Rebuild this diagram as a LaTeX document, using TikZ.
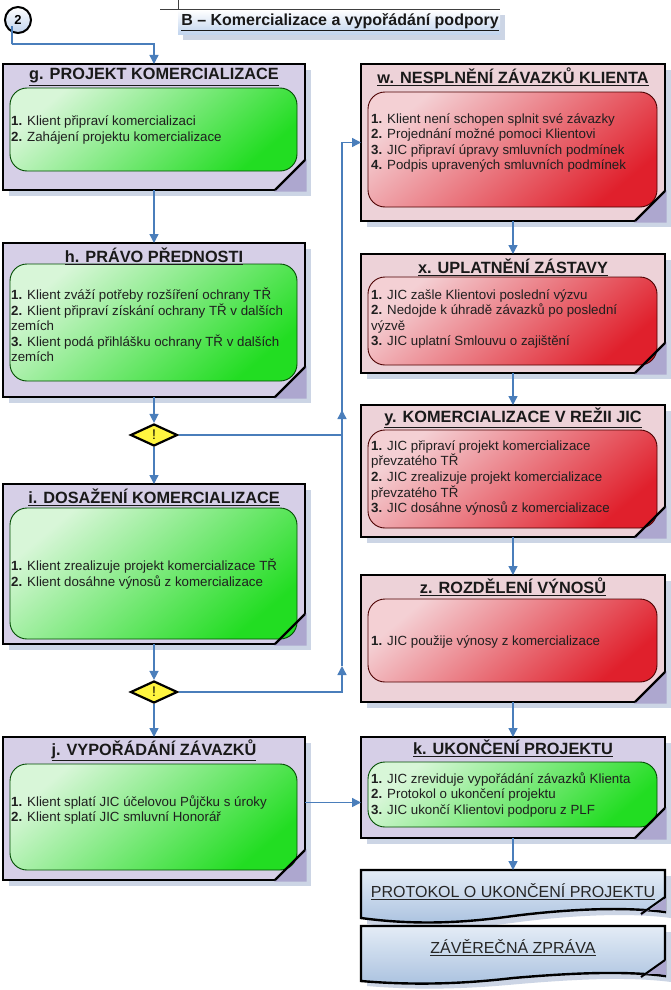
\documentclass[tikz,border=0pt]{standalone}
\usepackage{fontspec}
\setmainfont{Liberation Sans}
\usetikzlibrary{arrows.meta,shapes.geometric,calc}
\definecolor{connc}{HTML}{4A7EBB}
\definecolor{lavfill}{HTML}{D6CFE7}
\definecolor{pinkfill}{HTML}{EDD2D8}
\definecolor{shadowc}{HTML}{CCD5E5}
\definecolor{foldc}{HTML}{ADA7CF}
\definecolor{gtop}{HTML}{D8F6D8}
\definecolor{gbot}{HTML}{22DD22}
\definecolor{rtop}{HTML}{F4D0D4}
\definecolor{rbot}{HTML}{E0202C}
\definecolor{doctop}{HTML}{E4ECF6}
\definecolor{docbot}{HTML}{A9C1DF}
\definecolor{ttlbot}{HTML}{BFD3EE}
\newcommand{\stagebox}[9]{%
  \fill[shadowc] ({#2+6},{#3+6}) rectangle ({#4+6},{#5+6});
  \node[outerbox, fill=#6, minimum width={(#4-#2)*1pt}, minimum height={(#5-#3)*1pt}] (#1) at ({(#2+#4)/2},{(#3+#5)/2}) {};
  \fill[foldc] ({#4-31},{#5+1.5}) -- ({#4+1.5},{#5-31}) -- ({#4+1.5},{#5+1.5}) -- cycle;
  \path[#9] ({#2+7},#7) rectangle ({#4-8},#8);
  \draw[line width=2.4pt] ({#4-30},{#5}) -- ({#4},{#5-30});
}
\begin{document}
\begin{tikzpicture}[x=1pt,y=-1pt,
  outerbox/.style={draw=black, line width=2.4pt, inner sep=0pt, outer sep=0pt, rectangle},
  greenin/.style={draw=black!70!green, line width=0.9pt, rounded corners=17pt, top color=gtop, bottom color=gbot, shading angle=40},
  redin/.style={draw=black!70!red, line width=0.9pt, rounded corners=17pt, top color=rtop, bottom color=rbot, shading angle=40},
  conn/.style={draw=connc, line width=1.4pt},
  arr/.style={conn, -{Triangle[length=9pt,width=9pt]}},
  ttl/.style={font=\fontsize{16.3}{19}\selectfont\bfseries, text=black!90, inner sep=0pt},
  body/.style={font=\fontsize{13.3}{15.6}\selectfont, text=black!88, align=left, inner sep=0pt, anchor=west},
  warn/.style={diamond, draw=black, line width=2.2pt, fill=yellow!75!white, minimum width=47pt, minimum height=22pt, inner sep=0pt, aspect=2.1, font=\fontsize{14}{14}\selectfont},
  doctxt/.style={font=\fontsize{16}{19}\selectfont, text=black!85, inner sep=0pt}
]
\useasboundingbox (0,0) rectangle (671,990);
\fill[white] (0,0) rectangle (671,990);

% header
\fill[shadowc] (183,15) rectangle (505,40);
\shade[top color=white, bottom color=ttlbot] (178,10) rectangle (500,35);
\draw[black!75, line width=1pt] (178,0) -- (178,10);
\draw[black!75, line width=1pt] (160,10) -- (500,10);
\node[font=\fontsize{16}{19}\selectfont\bfseries, text=black!90, inner sep=0pt] (hdr) at (340,22) {\underline{B – Komercializace a vypořádání podpory}};

\node[circle, draw=black, line width=2pt, minimum size=26pt, inner sep=0pt, top color=white, bottom color=ttlbot, font=\fontsize{13}{13}\selectfont\bfseries] (start) at (18,20) {2};

% left column
\stagebox{g}{3}{64}{305}{190}{lavfill}{88}{171}{greenin}
\stagebox{h}{3}{243}{305}{397}{lavfill}{264}{381}{greenin}
\stagebox{i}{3}{484}{305}{644}{lavfill}{508}{639}{greenin}
\stagebox{j}{3}{737}{305}{880}{lavfill}{764}{870}{greenin}
% right column
\stagebox{w}{361}{64}{665}{221}{pinkfill}{92}{207}{redin}
\stagebox{x}{361}{254}{665}{373}{pinkfill}{277}{365}{redin}
\stagebox{y}{361}{405}{665}{537}{pinkfill}{430}{528}{redin}
\stagebox{z}{361}{575}{665}{702}{pinkfill}{599}{682}{redin}
\stagebox{k}{361}{737}{665}{838}{lavfill}{762}{827}{greenin}

% titles
\node[ttl] (gt) at (154,77) {\underline{g. PROJEKT KOMERCIALIZACE}};
\node[ttl] (ht) at (154,256) {\underline{h. PRÁVO PŘEDNOSTI}};
\node[ttl] (it) at (154,497) {\underline{i. DOSAŽENÍ KOMERCIALIZACE}};
\node[ttl] (jt) at (154,750) {\underline{j. VYPOŘÁDÁNÍ ZÁVAZKŮ}};
\node[ttl] (wt) at (513,77) {\underline{w. NESPLNĚNÍ ZÁVAZKŮ KLIENTA}};
\node[ttl] (xt) at (513,267) {\underline{x. UPLATNĚNÍ ZÁSTAVY}};
\node[ttl] (yt) at (513,418) {\underline{y. KOMERCIALIZACE V REŽII JIC}};
\node[ttl] (zt) at (513,587) {\underline{z. ROZDĚLENÍ VÝNOSŮ}};
\node[ttl] (kt) at (513,748) {\underline{k. UKONČENÍ PROJEKTU}};

% bodies
\node[body] (gb) at (11,130) {\textbf{1.} Klient připraví komercializaci\\\textbf{2.} Zahájení projektu komercializace};
\node[body] (hb) at (11,325) {\textbf{1.} Klient zváží potřeby rozšíření ochrany TŘ\\\textbf{2.} Klient připraví získání ochrany TŘ v dalších\\zemích\\\textbf{3.} Klient podá přihlášku ochrany TŘ v dalších\\zemích};
\node[body] (ib) at (11,574) {\textbf{1.} Klient zrealizuje projekt komercializace TŘ\\\textbf{2.} Klient dosáhne výnosů z komercializace};
\node[body] (jb) at (11,810) {\textbf{1.} Klient splatí JIC účelovou Půjčku s úroky\\\textbf{2.} Klient splatí JIC smluvní Honorář};
\node[body] (wb) at (371,143) {\textbf{1.} Klient není schopen splnit své závazky\\\textbf{2.} Projednání možné pomoci Klientovi\\\textbf{3.} JIC připraví úpravy smluvních podmínek\\\textbf{4.} Podpis upravených smluvních podmínek};
\node[body] (xb) at (371,319) {\textbf{1.} JIC zašle Klientovi poslední výzvu\\\textbf{2.} Nedojde k úhradě závazků po poslední\\výzvě\\\textbf{3.} JIC uplatní Smlouvu o zajištění};
\node[body] (yb) at (371,478) {\textbf{1.} JIC připraví projekt komercializace\\převzatého TŘ\\\textbf{2.} JIC zrealizuje projekt komercializace\\převzatého TŘ\\\textbf{3.} JIC dosáhne výnosů z komercializace};
\node[body] (zb) at (371,642) {\textbf{1.} JIC použije výnosy z komercializace};
\node[body] (kb) at (371,795) {\textbf{1.} JIC zreviduje vypořádání závazků Klienta\\\textbf{2.} Protokol o ukončení projektu\\\textbf{3.} JIC ukončí Klientovi podporu z PLF};

% decisions
\node[warn] (d1) at (154,435) {!};
\node[warn] (d2) at (154,692) {!};

% documents
\fill[shadowc] (367,876) -- (671,876) -- (671,918) .. controls (626,912) and (566,916) .. (519,922) .. controls (476,928) and (426,932) .. (367,924) -- cycle;
\shadedraw[top color=doctop, bottom color=docbot, draw=black, line width=2.4pt] (361,870) -- (665,870) -- (665,912) .. controls (620,906) and (560,910) .. (513,916) .. controls (470,922) and (420,926) .. (361,918) -- cycle;
\fill[foldc] (641,916) -- (666,898) -- (666,911) .. controls (655,909) and (648,910) .. (641,911) -- cycle;
\draw[line width=2pt] (641,914) -- (665,897);
\node[doctxt] (doc1) at (513,892) {\underline{PROTOKOL O UKONČENÍ PROJEKTU}};

\fill[shadowc] (367,932) -- (671,932) -- (671,982) .. controls (626,976) and (566,980) .. (519,984) .. controls (476,988) and (426,991) .. (367,986) -- cycle;
\shadedraw[top color=doctop, bottom color=docbot, draw=black, line width=2.4pt] (361,926) -- (665,926) -- (665,976) .. controls (620,970) and (560,974) .. (513,978) .. controls (470,983) and (420,986) .. (361,981) -- cycle;
\fill[foldc] (641,978) -- (666,960) -- (666,975) .. controls (655,973) and (648,974) .. (641,975) -- cycle;
\draw[line width=2pt] (641,977) -- (665,960);
\node[doctxt] (doc2) at (513,948) {\underline{ZÁVĚREČNÁ ZPRÁVA}};

% connectors
\coordinate (s1) at (12,44);
\draw[arr] (start.south west) ++(4,-4) |- (s1) -| (g.north);
\draw[arr] (g.south) -- (h.north);
\draw[arr] (h.south) -- (d1.north);
\draw[arr] (d1.south) -- (i.north);
\draw[arr] (i.south) -- (d2.north);
\draw[arr] (d2.south) -- (j.north);
\coordinate (a1) at (342,410);
\coordinate (a2) at (342,666);
\draw[arr] (d1.east) -| (a1);
\draw[arr] (a1) |- (w.west);
\draw[arr] (d2.east) -| (a2);
\draw[conn] (a2) -- (a1);
\draw[arr] (w.south) -- (x.north);
\draw[arr] (x.south) -- (y.north);
\draw[arr] (y.south) -- (z.north);
\draw[arr] (z.south) -- (k.north);
\coordinate (jk) at ([yshift=6pt]j.east);
\draw[arr] (jk) -- (jk -| k.west);
\draw[arr] (k.south) -- (k.south |- 0,870);
\end{tikzpicture}
\end{document}
